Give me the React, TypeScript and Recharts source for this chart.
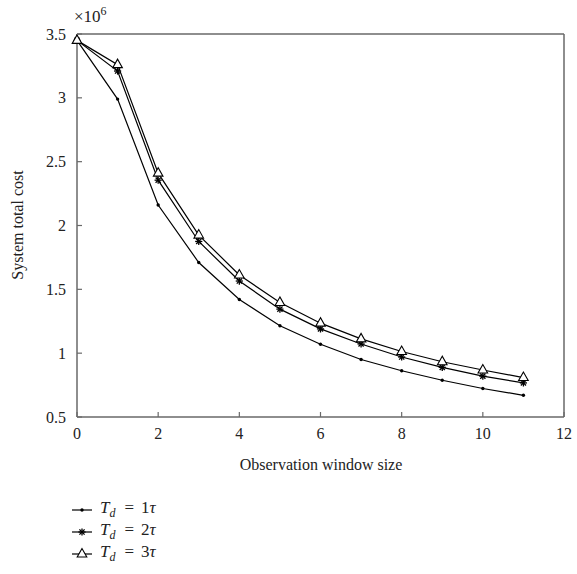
import React from 'react';
import { LineChart, Line, XAxis, YAxis, Legend, CartesianGrid, ReferenceLine } from 'recharts';

const windowSizes = [0, 1, 2, 3, 4, 5, 6, 7, 8, 9, 10, 11];
const td1Cost = [3.45, 2.99, 2.16, 1.71, 1.42, 1.215, 1.07, 0.95, 0.862, 0.788, 0.723, 0.67];
const td2Cost = [3.45, 3.21, 2.355, 1.875, 1.565, 1.345, 1.19, 1.072, 0.97, 0.889, 0.82, 0.767];
const td3Cost = [3.45, 3.26, 2.41, 1.925, 1.612, 1.397, 1.235, 1.112, 1.013, 0.933, 0.868, 0.809];
const xTicks = [0, 2, 4, 6, 8, 10, 12];
const yTicks = [0.5, 1, 1.5, 2, 2.5, 3, 3.5];
const seriesNames = ['1', '2', '3'];

const data = windowSizes.map((w, i) => ({
  w,
  td1: td1Cost[i],
  td2: td2Cost[i],
  td3: td3Cost[i],
}));

const FONT = '"Liberation Serif", "Times New Roman", serif';
const AXIS = 'dimgray';

const bottomTick = (props: any) => (
  <g>
    <line x1={props.x} y1={props.y - 11} x2={props.x} y2={props.y - 16} stroke={AXIS} strokeWidth={1.2} />
    <text x={props.x} y={props.y} dy="0.71em" textAnchor="middle" fontSize={16} fontFamily={FONT} fill="#222">
      {props.payload.value}
    </text>
  </g>
);

const leftTick = (props: any) => (
  <g>
    <line x1={props.x + 11} y1={props.y} x2={props.x + 16} y2={props.y} stroke={AXIS} strokeWidth={1.2} />
    <text x={props.x} y={props.y} dy="0.35em" textAnchor="end" fontSize={16} fontFamily={FONT} fill="#222">
      {props.payload.value}
    </text>
  </g>
);

const DotMark = (props: any) => <circle key={props.key} cx={props.cx} cy={props.cy} r={1.7} fill="#000" />;

const StarMark = (props: any) => {
  const { cx, cy } = props;
  const r = 3.6;
  const d = r * 0.72;
  return (
    <g key={props.key} stroke="#000" strokeWidth={1.3}>
      <line x1={cx - r} y1={cy} x2={cx + r} y2={cy} />
      <line x1={cx} y1={cy - r} x2={cx} y2={cy + r} />
      <line x1={cx - d} y1={cy - d} x2={cx + d} y2={cy + d} />
      <line x1={cx - d} y1={cy + d} x2={cx + d} y2={cy - d} />
    </g>
  );
};

const TriMark = (props: any) => {
  const { cx, cy } = props;
  return (
    <polygon
      key={props.key}
      points={`${cx},${cy - 5.5} ${cx - 4.8},${cy + 3} ${cx + 4.8},${cy + 3}`}
      fill="#fff"
      stroke="#000"
      strokeWidth={1.1}
    />
  );
};

const markers = [DotMark, StarMark, TriMark];

const renderLegend = () => (
  <div style={{ fontFamily: FONT, fontSize: 17, color: '#222' }}>
    {seriesNames.map((n, i) => {
      const Mark = markers[i];
      return (
        <div key={n} style={{ display: 'flex', alignItems: 'center', height: 22, lineHeight: '22px' }}>
          <svg width={20} height={22} style={{ display: 'block' }}>
            <line x1={0} y1={11} x2={20} y2={11} stroke="#000" strokeWidth={1.2} />
            <Mark cx={10} cy={11} />
          </svg>
          <span style={{ marginLeft: 8, whiteSpace: 'nowrap' }}>
            <i>T</i>
            <i style={{ fontSize: 12, verticalAlign: -4 }}>d</i>
            <span style={{ marginLeft: 9, marginRight: 7 }}>=</span>
            {n}
            <i>τ</i>
          </span>
        </div>
      );
    })}
  </div>
);

export default function App() {
  return (
    <div style={{ position: 'absolute', left: 0, top: 0, width: 577, height: 574, background: '#fff' }}>
      <LineChart width={577} height={574} data={data} margin={{ top: 34, right: 13, left: 0, bottom: 0 }}>
        <CartesianGrid stroke="transparent" />
        <XAxis
          dataKey="w"
          type="number"
          domain={[0, 12]}
          ticks={xTicks}
          height={157}
          tickSize={0}
          tickMargin={11}
          tick={bottomTick}
          stroke={AXIS}
          strokeWidth={1.5}
        />
        <YAxis
          type="number"
          domain={[0.5, 3.5]}
          ticks={yTicks}
          width={77}
          tickSize={0}
          tickMargin={11}
          tick={leftTick}
          stroke={AXIS}
          strokeWidth={1.5}
        />
        <ReferenceLine y={3.5} stroke={AXIS} strokeWidth={1.5} />
        <ReferenceLine x={12} stroke={AXIS} strokeWidth={1.5} />
        <Legend
          layout="horizontal"
          verticalAlign="middle"
          align="center"
          content={renderLegend}
          wrapperStyle={{ top: 499, left: 72, width: 200, height: 66 }}
        />
        <Line type="linear" dataKey="td1" stroke="#000" strokeWidth={1.2} dot={DotMark} isAnimationActive={false} />
        <Line type="linear" dataKey="td2" stroke="#000" strokeWidth={1.2} dot={StarMark} isAnimationActive={false} />
        <Line type="linear" dataKey="td3" stroke="#000" strokeWidth={1.2} dot={TriMark} isAnimationActive={false} />
      </LineChart>

      {/* axis titles and exponent */}
      <div
        style={{
          position: 'absolute', left: 74, top: 8, fontFamily: FONT, fontSize: 17, lineHeight: '17px',
          color: '#222', whiteSpace: 'nowrap', pointerEvents: 'none',
        }}
      >
        ×10<span style={{ fontSize: 12, position: 'relative', top: -7 }}>6</span>
      </div>
      <div
        style={{
          position: 'absolute', left: -82, top: 217, width: 200, height: 16, lineHeight: '16px',
          textAlign: 'center', transform: 'rotate(-90deg)', fontFamily: FONT, fontSize: 16,
          color: '#222', pointerEvents: 'none',
        }}
      >
        System total cost
      </div>
      <div
        style={{
          position: 'absolute', left: 221, top: 457, width: 200, lineHeight: '16px', textAlign: 'center',
          fontFamily: FONT, fontSize: 16, color: '#222', pointerEvents: 'none',
        }}
      >
        Observation window size
      </div>
    </div>
  );
}
